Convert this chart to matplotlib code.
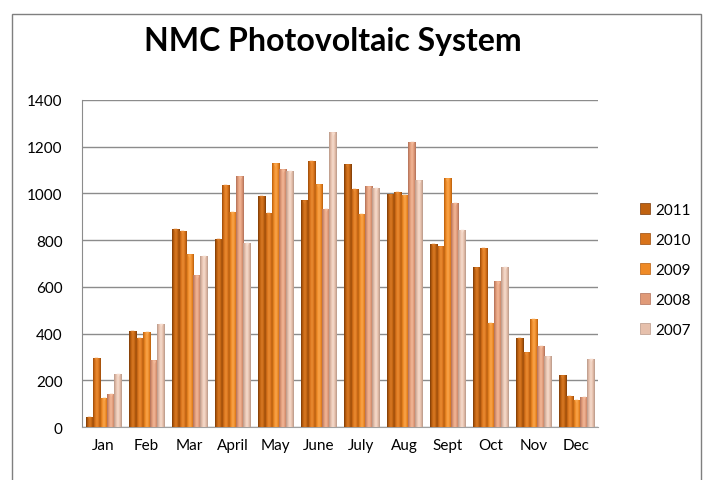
import numpy as np
import matplotlib
matplotlib.use('Agg')
import matplotlib.pyplot as plt
from matplotlib.colors import LinearSegmentedColormap
from matplotlib.patches import Rectangle

months = ['Jan', 'Feb', 'Mar', 'April', 'May', 'June', 'July', 'Aug', 'Sept', 'Oct', 'Nov', 'Dec']
years = ['2011', '2010', '2009', '2008', '2007']

y2011 = [43, 411, 849, 806, 989, 970, 1124, 997, 784, 684, 383, 221]
y2010 = [297, 381, 841, 1036, 917, 1140, 1021, 1006, 773, 766, 319, 133]
y2009 = [126, 407, 739, 921, 1129, 1039, 913, 993, 1064, 447, 463, 116]
y2008 = [143, 286, 650, 1074, 1104, 933, 1031, 1221, 961, 624, 347, 129]
y2007 = [229, 443, 734, 789, 1096, 1261, 1024, 1056, 844, 687, 303, 293]
series = [y2011, y2010, y2009, y2008, y2007]

# (dark edge, middle, highlight) for the cylinder look
colors = [('#7a3a08', '#c0620f', '#d97a25'),
          ('#9a4a08', '#d8731a', '#eb8c34'),
          ('#b85e0c', '#ef8a26', '#f9a64c'),
          ('#b07058', '#e09a78', '#f2b898'),
          ('#b89888', '#e6c0ac', '#f6dccd')]

plt.rcParams['font.family'] = ['Lato', 'DejaVu Sans']

fig = plt.figure(figsize=(7.05, 4.81), dpi=100)
fig.patches.append(Rectangle((12 / 705, -0.05), 689 / 705, 1 - 15 / 481 + 0.05,
                             transform=fig.transFigure, fill=False,
                             edgecolor='#7f7f7f', linewidth=1.0))
ax = fig.add_axes([82 / 705, 1 - 428 / 481, 516 / 705, 327 / 481])

x = np.arange(len(months))
w = 0.163
offsets = (np.arange(5) - 2) * w
grad = np.linspace(0, 1, 64)

for i, vals in enumerate(series):
    dark, mid, light = colors[i]
    cmap = LinearSegmentedColormap.from_list('c%d' % i, [dark, mid, light, mid, dark])
    bars = ax.bar(x + offsets[i], vals, width=w, color=mid, label=years[i], zorder=2)
    for b in bars:
        x0, y0 = b.get_x(), b.get_y()
        im = ax.imshow(grad[None, :], cmap=cmap, aspect='auto', zorder=3,
                       extent=(x0, x0 + b.get_width(), y0, y0 + b.get_height()))
        im.set_clip_path(b)
        ax.plot(x0 + b.get_width() / 2, b.get_height() - 6, marker='v', ms=2.5,
                color=light, mec='none', zorder=4)

ax.set_xlim(-0.5, 11.5)
ax.set_ylim(0, 1400)
ax.set_yticks(range(0, 1401, 200))
ax.set_xticks(x)
ax.set_xticklabels(months)
ax.yaxis.grid(True, color='#8c8c8c', linewidth=1.0, zorder=0)
ax.set_axisbelow(True)
for s in ['top', 'right']:
    ax.spines[s].set_visible(False)
ax.spines['left'].set_color('#8c8c8c')
ax.spines['bottom'].set_color('#a0a0a0')
ax.tick_params(axis='both', length=0, labelsize=11, colors='black')
ax.tick_params(axis='x', pad=8)
ax.tick_params(axis='y', pad=14)

fig.text(333 / 705, 1 - 42 / 481, 'NMC Photovoltaic System', ha='center', va='center',
         fontsize=23, fontweight='bold')

handles = [Rectangle((0, 0), 1, 1, facecolor=c[1], edgecolor=c[0], linewidth=0.5) for c in colors]
fig.legend(handles, years, loc='center left', bbox_to_anchor=(632 / 705, 1 - 271 / 481),
           frameon=False, fontsize=11, handlelength=0.7, handleheight=0.7,
           handletextpad=0.3, labelspacing=1.05, borderpad=0)

fig.savefig('out.png', dpi=100)
